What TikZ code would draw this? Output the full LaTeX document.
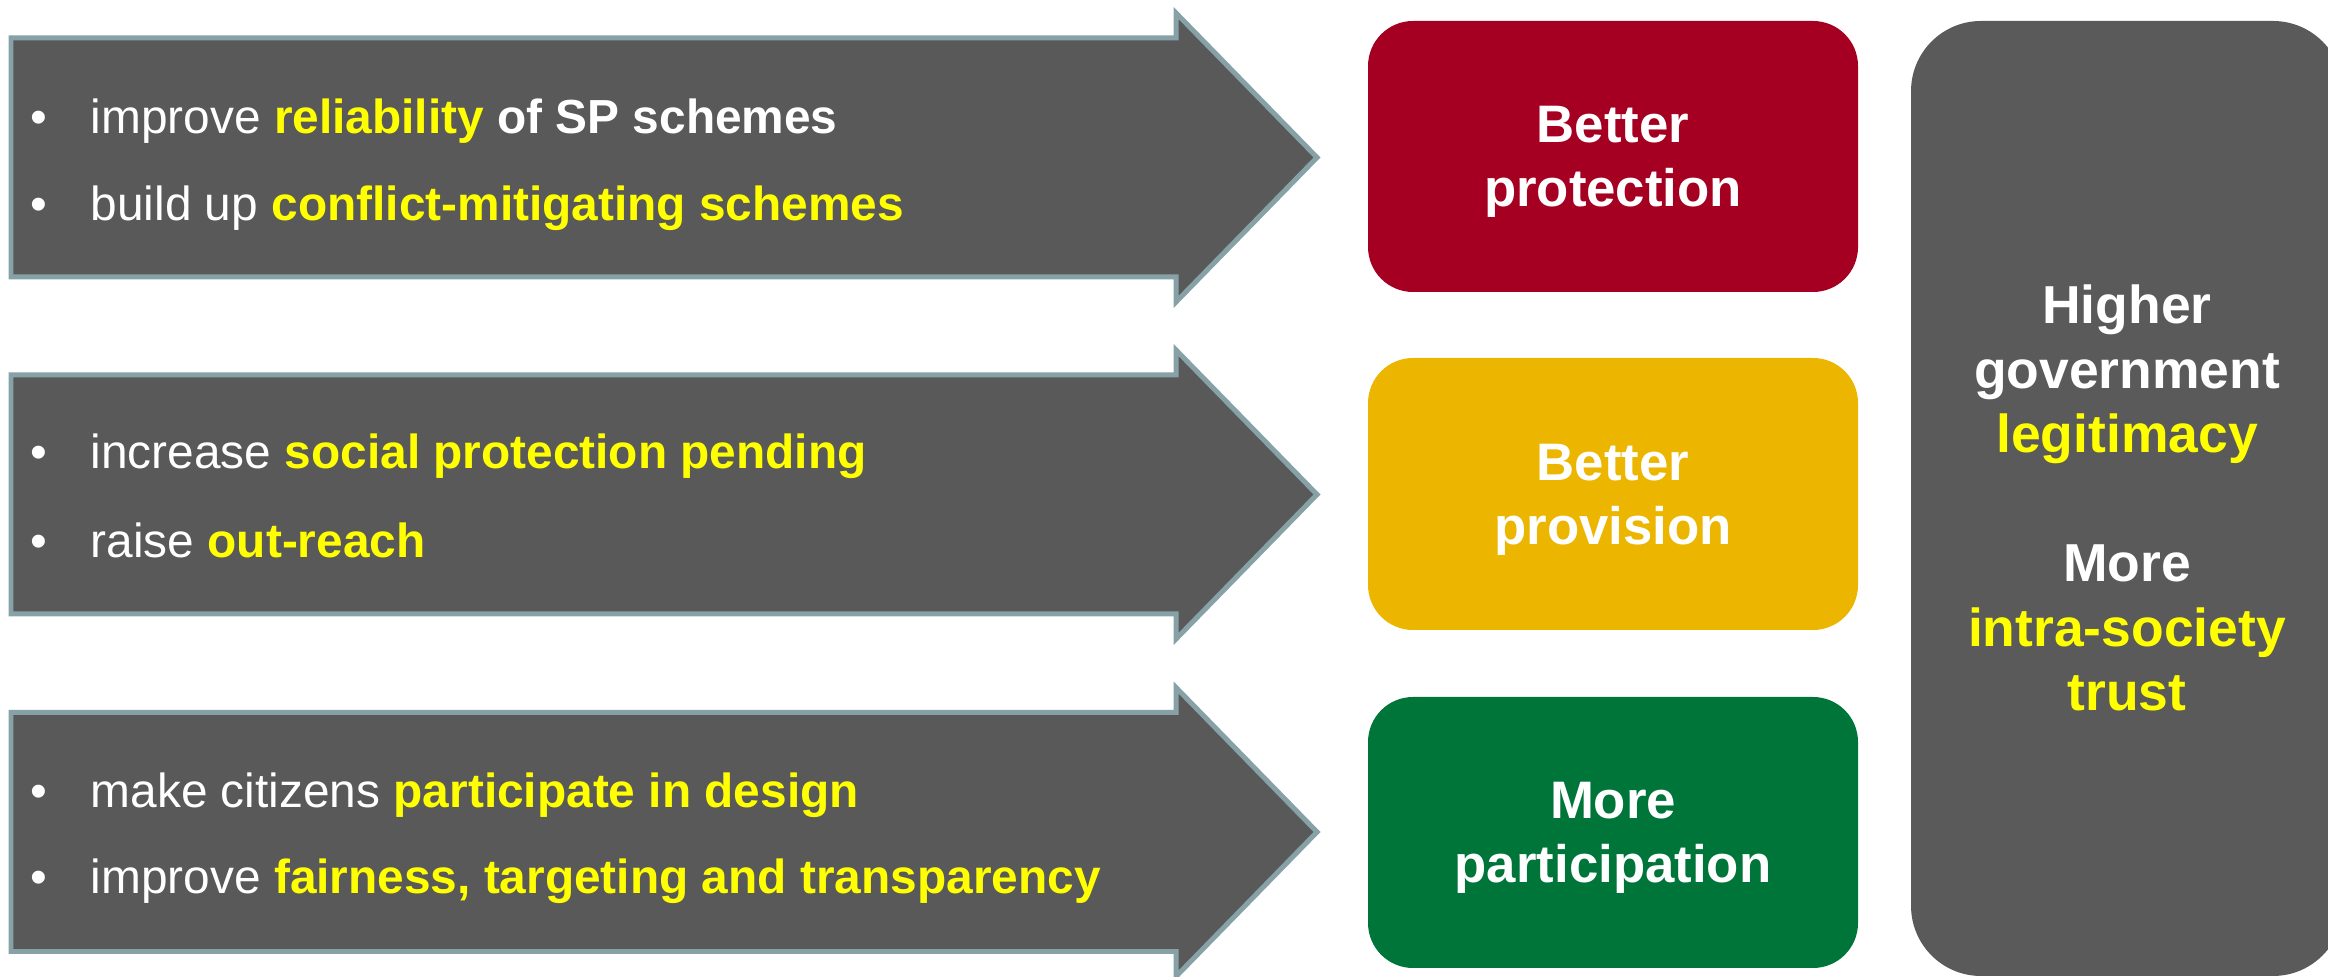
\documentclass[tikz,border=0pt]{standalone}
\usepackage{fontspec}
\setmainfont{Liberation Sans}
\definecolor{arrowfill}{HTML}{595959}
\definecolor{arrowedge}{HTML}{87A2A6}
\definecolor{hiyellow}{HTML}{FFFF00}
\definecolor{boxred}{HTML}{A50021}
\definecolor{boxyellow}{HTML}{ECB600}
\definecolor{boxgreen}{HTML}{00753A}
\definecolor{boxgray}{HTML}{5A5A5A}
\newcommand\yb[1]{\textbf{\color{hiyellow}#1}}
\tikzset{
  bigarrow/.style={fill=arrowfill, draw=arrowedge, line width=1.42pt, line join=miter},
  bullettext/.style={anchor=base west, inner sep=0pt, text=white, font=\fontsize{13.6}{16}\selectfont},
  bulletdot/.style={anchor=base, inner sep=0pt, text=white, font=\fontsize{13.6}{16}\selectfont},
  outcome/.style={rounded corners=4.5mm},
  outcometext/.style={inner sep=0pt, align=center, text=white, font=\bfseries\fontsize{15}{18.2}\selectfont},
}
\begin{document}
\begin{tikzpicture}[x=0.01cm, y=-0.01cm]
\useasboundingbox (0,0) rectangle (2328,977);
\clip (0,0) rectangle (2328,977);

% block arrows, one per row (mid line m)
\foreach \m in {157.5, 494.5, 832} {
  \draw[bigarrow] (11,\m-119.5) -- (1176,\m-119.5) -- (1176,\m-144.5) -- (1317,\m)
     -- (1176,\m+144.5) -- (1176,\m+119.5) -- (11,\m+119.5) -- cycle;
}

% row 1
\node[bulletdot] (b1a) at (39,134) {•};
\node[bullettext] (t1a) at (90,134) {improve \yb{reliability} \textbf{of SP schemes}};
\node[bulletdot] (b1b) at (39,221) {•};
\node[bullettext] (t1b) at (90,221) {build up \yb{conflict-mitigating schemes}};

% row 2
\node[bulletdot] (b2a) at (39,469) {•};
\node[bullettext] (t2a) at (90,469) {increase \yb{social protection pending}};
\node[bulletdot] (b2b) at (39,558) {•};
\node[bullettext] (t2b) at (90,558) {raise \yb{out-reach}};

% row 3
\node[bulletdot] (b3a) at (39,808) {•};
\node[bullettext] (t3a) at (90,808) {make citizens \yb{participate in design}};
\node[bulletdot] (b3b) at (39,894) {•};
\node[bullettext] (t3b) at (90,894) {improve \yb{fairness, targeting and transparency}};

% outcome boxes
\fill[outcome, boxred] (1368,21) rectangle (1858,292);
\fill[outcome, boxyellow] (1368,358) rectangle (1858,630);
\fill[outcome, boxgreen] (1368,697) rectangle (1858,968);
\node[outcometext] (o1) at (1613,162) {Better\\protection};
\node[outcometext] (o2) at (1613,499.5) {Better\\provision};
\node[outcometext] (o3) at (1613,838) {More\\participation};

% overall effect
\fill[boxgray, rounded corners=7mm] (1911,21) rectangle (2343,976);
\node[outcometext, font=\bfseries\fontsize{15.2}{18.35}\selectfont] (goal) at (2127,498)
  {Higher\\government\\\yb{legitimacy}\\[18.35pt]More\\\yb{intra-society}\\\yb{trust}};
\end{tikzpicture}
\end{document}
